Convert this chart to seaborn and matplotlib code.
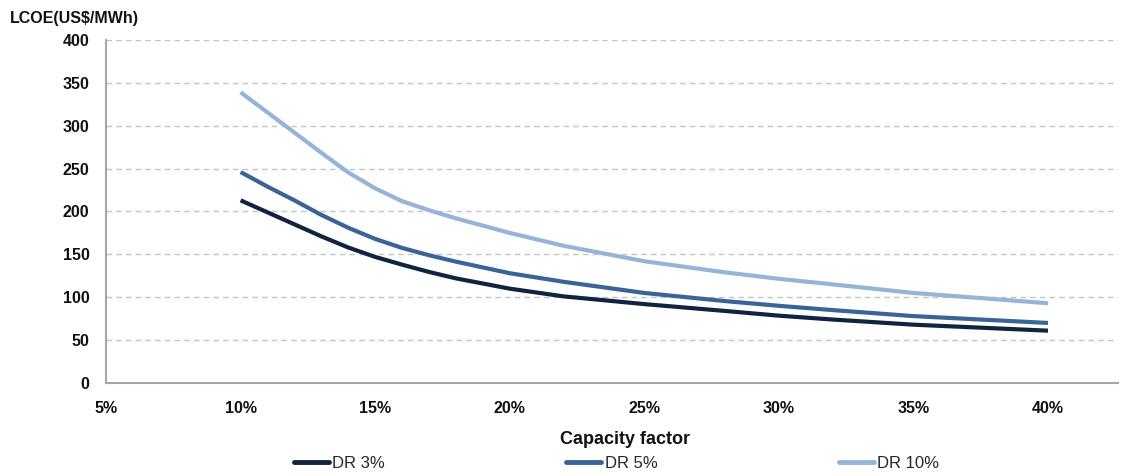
import matplotlib
matplotlib.use("Agg")
import matplotlib.pyplot as plt
import matplotlib.ticker as mticker
import seaborn as sns
import pandas as pd

# Capacity factor (%) and levelised cost of electricity (US$/MWh) per discount rate
capacity_factor = [10, 11, 12, 13, 14, 15, 16, 17, 18, 20, 22, 25, 28, 30, 32, 35, 40]
lcoe_dr3 = [213, 199, 185, 171, 158, 147, 138, 129.5, 122, 110, 101, 92, 84, 78.5, 74, 68, 61]
lcoe_dr5 = [246, 229, 213, 196, 181, 168, 157.5, 149, 141.5, 128, 118, 105, 95.5, 90, 85, 78, 70]
lcoe_dr10 = [339, 315.5, 292, 268.5, 245.5, 227, 212, 201.5, 192, 175, 160, 142, 129, 121.5, 115, 105, 93]

series_names = ["DR 3%", "DR 5%", "DR 10%"]
series_colors = ["#10233f", "#3a6497", "#95b4d8"]

x_ticks = [5, 10, 15, 20, 25, 30, 35, 40]
y_ticks = [0, 50, 100, 150, 200, 250, 300, 350, 400]

frames = []
for name, vals in zip(series_names, [lcoe_dr3, lcoe_dr5, lcoe_dr10]):
    frames.append(pd.DataFrame({"cf": capacity_factor, "lcoe": vals, "series": name}))
df = pd.concat(frames, ignore_index=True)

sns.set_theme(style="white")
narrow = ["Liberation Sans Narrow", "Liberation Sans", "DejaVu Sans"]
plt.rcParams["font.family"] = narrow

fig = plt.figure(figsize=(11.21, 4.76), dpi=100)
ax = fig.add_axes([0.0946, 0.1954, 0.9027, 0.7206])

sns.lineplot(
    data=df, x="cf", y="lcoe", hue="series", hue_order=series_names,
    palette=dict(zip(series_names, series_colors)), linewidth=3.0,
    ax=ax, legend=False, solid_capstyle="butt", solid_joinstyle="round",
)

ax.set_xlim(5, 42.6)
ax.set_ylim(0, 400)
ax.set_xticks(x_ticks)
ax.set_yticks(y_ticks)
ax.xaxis.set_major_formatter(mticker.FuncFormatter(lambda v, _: f"{int(v)}%"))
ax.tick_params(axis="both", length=0, labelsize=11.5, colors="#111111")
ax.tick_params(axis="x", pad=13)
ax.tick_params(axis="y", pad=12)
for lab in ax.get_xticklabels() + ax.get_yticklabels():
    lab.set_fontweight("bold")

ax.yaxis.grid(True, linestyle=(0, (4, 3)), color="#c4c4c4", linewidth=1.0)
ax.xaxis.grid(False)
for side in ["top", "right"]:
    ax.spines[side].set_visible(False)
for side in ["left", "bottom"]:
    ax.spines[side].set_color("#a6a6a6")
    ax.spines[side].set_linewidth(1.5)

ax.set_xlabel("")
ax.set_ylabel("")
fig.text(0.0089, 0.962, r"LCOE(US\$/MWh)", fontsize=11.5, fontweight="bold",
         ha="left", va="center", color="#111111")
fig.text(0.5575, 0.076, "Capacity factor", fontsize=13, fontweight="bold",
         ha="center", va="center", color="#111111")

handles = [plt.Line2D([], [], color=c, linewidth=3.5) for c in series_colors]
fig.legend(handles, series_names, loc="center left", bbox_to_anchor=(0.256, 0.027),
           ncol=3, frameon=False, fontsize=12, handlelength=2.1, handletextpad=0.2,
           columnspacing=10.9, borderaxespad=0)

fig.savefig("out.png", dpi=100)
